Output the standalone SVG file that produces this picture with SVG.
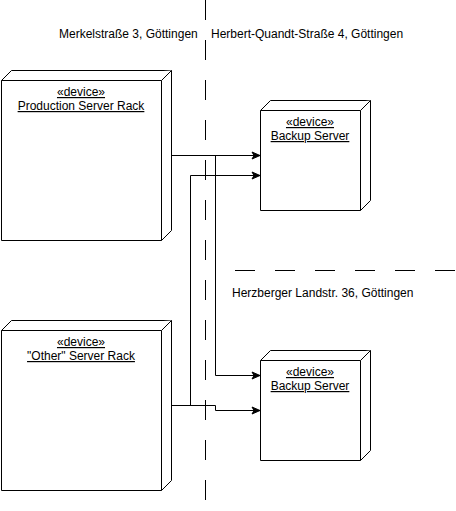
<svg xmlns="http://www.w3.org/2000/svg" width="456" height="511" viewBox="0 0 456 511">
<style>
.node path{fill:#fff;stroke:#000;stroke-width:1;stroke-linejoin:miter}
.node text{font-family:"Liberation Sans",Arial,Helvetica,sans-serif;font-size:12px;fill:#000;text-anchor:middle;text-decoration:underline}
.lbl{font-family:"Liberation Sans",Arial,Helvetica,sans-serif;font-size:12px;fill:#000}
.dash{fill:none;stroke:#000;stroke-width:1;stroke-dasharray:20 20}
.edges path{fill:none;stroke:#000;stroke-width:1}
</style>
<defs>
<marker id="arr" markerUnits="userSpaceOnUse" markerWidth="9" markerHeight="8" refX="8" refY="4" orient="auto" overflow="visible">
<path d="M0,0.5 L8,4 L0,7.5 L2,4 Z" fill="#000" stroke="#000" stroke-width="1"/>
</marker>
</defs>
<rect width="456" height="511" fill="#fff"/>
<g id="boundaries">
<path class="dash" d="M205.5,0 V511"/>
<path class="dash" d="M235,270.5 H456"/>
</g>
<g id="labels">
<text class="lbl" x="59" y="38">Merkelstraße 3, Göttingen</text>
<text class="lbl" x="211" y="38">Herbert-Quandt-Straße 4, Göttingen</text>
<text class="lbl" x="232" y="297">Herzberger Landstr. 36, Göttingen</text>
</g>
<g id="production-rack" class="node">
<path d="M1.5,80.5 L11.5,70.5 H171.5 V230.5 L161.5,240.5 H1.5 Z"/>
<path d="M1.5,80.5 H161.5 L171.5,70.5 M161.5,80.5 V240.5"/>
<text x="81" y="96">«device»</text>
<text x="81" y="110">Production Server Rack</text>
</g>
<g id="other-rack" class="node">
<path d="M1.5,330.5 L11.5,320.5 H171.5 V480.5 L161.5,490.5 H1.5 Z"/>
<path d="M1.5,330.5 H161.5 L171.5,320.5 M161.5,330.5 V490.5"/>
<text x="81" y="346">«device»</text>
<text x="81" y="360">"Other" Server Rack</text>
</g>
<g id="backup-server-1" class="node">
<path d="M260.5,110.5 L270.5,100.5 H370.5 V200.5 L360.5,210.5 H260.5 Z"/>
<path d="M260.5,110.5 H360.5 L370.5,100.5 M360.5,110.5 V210.5"/>
<text x="310" y="126">«device»</text>
<text x="310" y="140">Backup Server</text>
</g>
<g id="backup-server-2" class="node">
<path d="M260.5,360.5 L270.5,350.5 H370.5 V450.5 L360.5,460.5 H260.5 Z"/>
<path d="M260.5,360.5 H360.5 L370.5,350.5 M360.5,360.5 V460.5"/>
<text x="310" y="376">«device»</text>
<text x="310" y="390">Backup Server</text>
</g>
<g id="connectors" class="edges">
<path d="M171.5,155.5 H260" marker-end="url(#arr)"/>
<path d="M171.5,155.5 H215.5 V375.5 H260" marker-end="url(#arr)"/>
<path d="M171.5,405.5 H190.5 V175.5 H260" marker-end="url(#arr)"/>
<path d="M171.5,405.5 H215.5 V410.5 H260" marker-end="url(#arr)"/>
</g>
</svg>
